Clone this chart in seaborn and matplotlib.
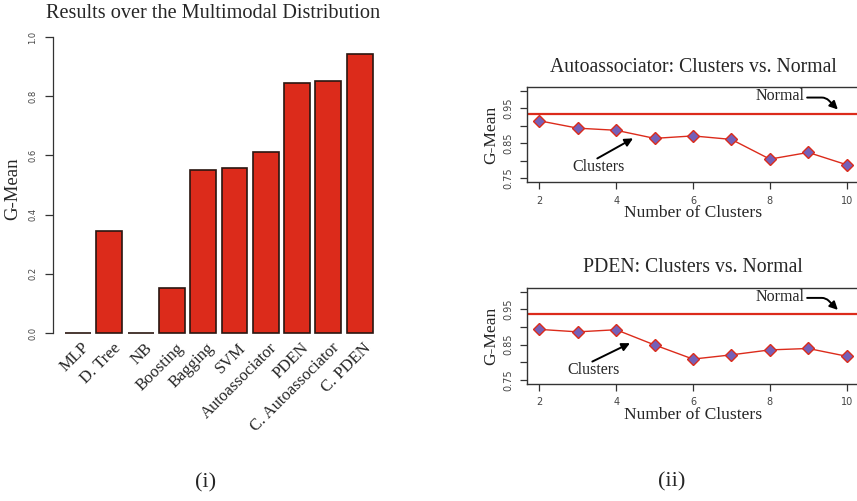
import matplotlib
matplotlib.use("Agg")
import matplotlib.pyplot as plt
import matplotlib.transforms as mtransforms
import seaborn as sns
import pandas as pd

# ---------------- data ----------------
methods = ["MLP", "D. Tree", "NB", "Boosting", "Bagging", "SVM",
           "Autoassociator", "PDEN", "C. Autoassociator", "C. PDEN"]
gmean = [0.0, 0.346, 0.0, 0.153, 0.551, 0.557, 0.611, 0.845, 0.851, 0.944]

clusters = [2, 3, 4, 5, 6, 7, 8, 9, 10]
auto_clusters = [0.914, 0.893, 0.887, 0.864, 0.871, 0.861, 0.805, 0.824, 0.789]
auto_normal = 0.934
pden_clusters = [0.893, 0.886, 0.892, 0.849, 0.809, 0.821, 0.835, 0.839, 0.817]
pden_normal = 0.936

left_yticks = [0.0, 0.2, 0.4, 0.6, 0.8, 1.0]
right_yticks = [0.75, 0.80, 0.85, 0.90, 0.95, 1.00]
right_yticklabels = ["0.75", "", "0.85", "", "0.95", ""]
right_xticks = [2, 4, 6, 8, 10]

# ---------------- style ----------------
sns.set_theme(style="ticks")
SERIF = ["Liberation Serif", "DejaVu Serif"]
plt.rcParams["font.family"] = SERIF
RED = "#dc2b1b"
EDGE = "#2a1611"
PURPLE = "#7560b8"
TICKC = "#444444"
SANS = "DejaVu Sans"

fig = plt.figure(figsize=(8.57, 5.01), dpi=100)
W, H = 857.0, 501.0

def axes_px(l, t, r, b):
    return fig.add_axes([l / W, 1 - b / H, (r - l) / W, (b - t) / H])

# ---------------- left: bar chart ----------------
axL = axes_px(52.7, 25.2, 385, 344.8)
df = pd.DataFrame({"method": methods, "gmean": gmean})
sns.barplot(data=df, x="method", y="gmean", color=RED, saturation=1,
            edgecolor=EDGE, linewidth=1.2, width=0.83, ax=axL)
axL.set_xlim(-0.81, 9.81)
axL.set_ylim(-0.04, 1.04)
for s in ["top", "right", "bottom"]:
    axL.spines[s].set_visible(False)
axL.spines["left"].set_bounds(0, 1)
axL.spines["left"].set_color("#333333")
axL.spines["left"].set_linewidth(0.9)
axL.set_yticks(left_yticks)
axL.set_yticklabels([f"{v:.1f}" for v in left_yticks], rotation=90,
                    va="center", fontsize=6, family=SANS, color=TICKC)
axL.tick_params(axis="y", length=6, width=0.9, color="#333333", pad=5)
axL.tick_params(axis="x", length=0, pad=0.5)
axL.set_xticks(range(len(methods)))
axL.set_xticklabels(methods, rotation=45, ha="right", va="center",
                    rotation_mode="anchor", fontsize=12, family=SERIF)
off = mtransforms.ScaledTranslation(9 / 100, 0, fig.dpi_scale_trans)
for lab in axL.get_xticklabels():
    lab.set_transform(lab.get_transform() + off)
axL.set_xlabel("")
axL.set_ylabel("G-Mean", fontsize=13.5, family=SERIF)
axL.yaxis.set_label_coords((13 - 52.7) / (385 - 52.7), 0.49)
axL.yaxis.label.set_va("center")
fig.text(213.5 / W, 1 - 13 / H, "Results over the Multimodal Distribution",
         ha="center", va="center", fontsize=14.6, family=SERIF)
fig.text(206 / W, 1 - 483 / H, "(i)", ha="center", va="center",
         fontsize=16, family=SERIF)

# ---------------- right panels ----------------
def cluster_panel(top, bottom, values, normal, title, norm_text_y,
                  norm_start_y, norm_tip_y, cl_text, cl_start, cl_tip):
    ax = axes_px(527, top, 859, bottom)
    d = pd.DataFrame({"k": clusters, "g": values})
    ax.axhline(normal, color=RED, lw=1.6, zorder=1)
    sns.lineplot(data=d, x="k", y="g", color=RED, lw=1.0, marker="D",
                 markersize=6.5, markerfacecolor=PURPLE, markeredgecolor=RED,
                 markeredgewidth=1.0, ax=ax, zorder=3)
    ax.set_xlim(1.68, 10.32)
    ax.set_ylim(0.74, 1.01)
    for s in ax.spines.values():
        s.set_color("#333333")
        s.set_linewidth(1.0)
    ax.set_xticks(right_xticks)
    ax.set_xticklabels([str(v) for v in right_xticks], fontsize=7,
                       family=SANS, color=TICKC)
    ax.set_yticks(right_yticks)
    ax.set_yticklabels(right_yticklabels, rotation=90, va="center",
                       fontsize=7, family=SANS, color=TICKC)
    ax.tick_params(axis="both", length=5, width=0.9, color="#333333", pad=5)
    ax.set_xlabel("Number of Clusters", fontsize=12.6, family=SERIF)
    ax.xaxis.set_label_coords(0.5, -(213 - 182) / 95.0)
    ax.xaxis.label.set_va("center")
    ax.set_ylabel("G-Mean", fontsize=12.6, family=SERIF)
    ax.yaxis.set_label_coords((491 - 527) / 332.0, 0.5)
    ax.yaxis.label.set_va("center")
    ax.text(0.5, 1 + 20 / 95.0, title, transform=ax.transAxes, ha="center",
            va="center", fontsize=14.2, family=SERIF)
    ax.text(8.27, norm_text_y, "Normal", ha="center", va="center",
            fontsize=11.5, family=SERIF)
    ax.annotate("", xy=(9.77, norm_tip_y), xytext=(8.97, norm_start_y),
                arrowprops=dict(arrowstyle="-|>", color="black", lw=1.4,
                                mutation_scale=12, shrinkA=0, shrinkB=0,
                                connectionstyle="angle,angleA=0,angleB=135,rad=4"))
    ax.annotate("", xy=cl_tip, xytext=cl_start,
                arrowprops=dict(arrowstyle="-|>", color="black", lw=1.4,
                                mutation_scale=12, shrinkA=0, shrinkB=0))
    ax.text(cl_text[0], cl_text[1], "Clusters", ha="center", va="center",
            fontsize=11.5, family=SERIF)
    return ax

cluster_panel(87, 182, auto_clusters, auto_normal,
              "Autoassociator: Clusters vs. Normal", 0.983, 0.980, 0.946,
              (3.53, 0.782), (3.51, 0.807), (4.44, 0.864))
cluster_panel(288, 383.5, pden_clusters, pden_normal,
              "PDEN: Clusters vs. Normal", 0.985, 0.982, 0.948,
              (3.42, 0.778), (3.38, 0.802), (4.36, 0.854))

fig.text(672 / W, 1 - 482 / H, "(ii)", ha="center", va="center",
         fontsize=16, family=SERIF)

fig.savefig("out.png", dpi=100)
